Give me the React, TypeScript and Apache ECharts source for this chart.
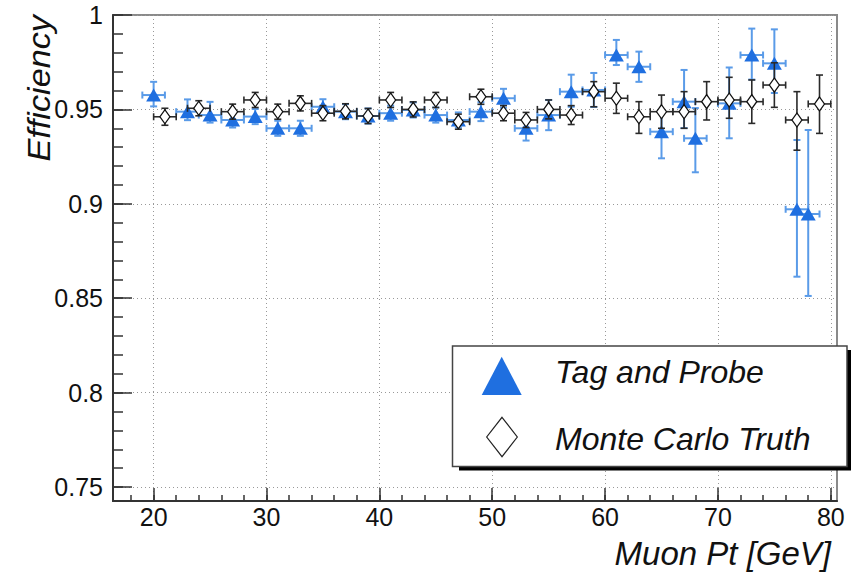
import React, { useEffect, useRef } from "react";
import * as echarts from "echarts";

// ---- Data: Tag and Probe ----
const tpPt = [20, 23, 25, 27, 29, 31, 33, 35, 37, 39, 41, 43, 45, 47, 49, 51, 53, 55, 57, 59, 61, 63, 65, 67, 68, 71, 73, 75, 77, 78];
const tpEff = [0.9576, 0.9488, 0.947, 0.9444, 0.9462, 0.94, 0.94, 0.9514, 0.9488, 0.9465, 0.948, 0.9497, 0.947, 0.9444, 0.9488, 0.9559, 0.94, 0.947, 0.9594, 0.9603, 0.9788, 0.9726, 0.9382, 0.9541, 0.9347, 0.9532, 0.9788, 0.9744, 0.8971, 0.8946];
const tpErrUp = [0.007, 0.0065, 0.007, 0.004, 0.004, 0.004, 0.004, 0.004, 0.004, 0.004, 0.004, 0.004, 0.004, 0.004, 0.005, 0.005, 0.0055, 0.008, 0.009, 0.009, 0.008, 0.008, 0.0106, 0.0168, 0.016, 0.019, 0.014, 0.018, 0.0367, 0.0445];
const tpErrDown = [0.006, 0.0045, 0.004, 0.004, 0.004, 0.004, 0.004, 0.004, 0.004, 0.004, 0.004, 0.004, 0.004, 0.004, 0.005, 0.005, 0.0065, 0.008, 0.008, 0.009, 0.0053, 0.008, 0.0141, 0.014, 0.018, 0.0185, 0.013, 0.0157, 0.0357, 0.0434];

// ---- Data: Monte Carlo Truth ----
const mcPt = [21, 24, 27, 29, 31, 33, 35, 37, 39, 41, 43, 45, 47, 49, 51, 53, 55, 57, 59, 61, 63, 65, 67, 69, 71, 73, 75, 77, 79];
const mcEff = [0.9461, 0.9506, 0.9488, 0.955, 0.9488, 0.9532, 0.948, 0.949, 0.9465, 0.955, 0.95, 0.955, 0.9435, 0.9567, 0.948, 0.9444, 0.95, 0.947, 0.9594, 0.9559, 0.9461, 0.9488, 0.9488, 0.9541, 0.955, 0.9541, 0.9629, 0.9444, 0.9529];
const mcErrUp = [0.0045, 0.004, 0.004, 0.004, 0.004, 0.004, 0.004, 0.004, 0.004, 0.004, 0.004, 0.004, 0.004, 0.004, 0.004, 0.004, 0.005, 0.005, 0.0053, 0.008, 0.008, 0.0088, 0.0106, 0.0106, 0.012, 0.0115, 0.0118, 0.015, 0.0153];
const mcErrDown = [0.0045, 0.004, 0.004, 0.004, 0.004, 0.004, 0.004, 0.004, 0.004, 0.004, 0.004, 0.004, 0.004, 0.004, 0.004, 0.004, 0.005, 0.005, 0.008, 0.008, 0.0088, 0.0088, 0.0088, 0.0097, 0.0097, 0.0115, 0.0118, 0.016, 0.0156];

// half bin width (GeV)
const binHalfWidth = 1;

// ---- Axes ----
const xMajorTicks = [20, 30, 40, 50, 60, 70, 80];
const xMinorTicks = [18, 20, 22, 24, 26, 28, 30, 32, 34, 36, 38, 40, 42, 44, 46, 48, 50, 52, 54, 56, 58, 60, 62, 64, 66, 68, 70, 72, 74, 76, 78, 80];
const yMajorTicks = [0.75, 0.8, 0.85, 0.9, 0.95, 1];
const yMinorTicks = [0.75, 0.76, 0.77, 0.78, 0.79, 0.8, 0.81, 0.82, 0.83, 0.84, 0.85, 0.86, 0.87, 0.88, 0.89, 0.9, 0.91, 0.92, 0.93, 0.94, 0.95, 0.96, 0.97, 0.98, 0.99, 1];
const xMin = 16.4;
const xMax = 80.55;
const yMin = 0.7426;
const yMax = 1.0;

const seriesNames = ["Tag and Probe", "Monte Carlo Truth"];
const xTitle = "Muon Pt [GeV]";
const yTitle = "Efficiency";

const FONT = "'Liberation Sans', Arial, Helvetica, sans-serif";
const BLUE = "#1f6fe0";
const BLUE_ERR = "#5a9be8";
const BLACK_ERR = "#2a2a2a";

function errData(xs: number[], ys: number[], up: number[], down: number[]) {
  return xs.map((x, i) => [x, ys[i], x - binHalfWidth, x + binHalfWidth, ys[i] - down[i], ys[i] + up[i]]);
}

function makeRender(color: string, width: number, cap: number) {
  return (params: any, api: any) => {
    const x = api.value(0);
    const y = api.value(1);
    const l = api.coord([api.value(2), y]);
    const r = api.coord([api.value(3), y]);
    const b = api.coord([x, api.value(4)]);
    const t = api.coord([x, api.value(5)]);
    const style = { stroke: color, lineWidth: width, fill: "none" };
    return {
      type: "group",
      children: [
        { type: "line", shape: { x1: l[0], y1: l[1], x2: r[0], y2: r[1] }, style },
        { type: "line", shape: { x1: l[0], y1: l[1] - cap, x2: l[0], y2: l[1] + cap }, style },
        { type: "line", shape: { x1: r[0], y1: r[1] - cap, x2: r[0], y2: r[1] + cap }, style },
        { type: "line", shape: { x1: b[0], y1: b[1], x2: t[0], y2: t[1] }, style },
        { type: "line", shape: { x1: b[0] - cap, y1: b[1], x2: b[0] + cap, y2: b[1] }, style },
        { type: "line", shape: { x1: t[0] - cap, y1: t[1], x2: t[0] + cap, y2: t[1] }, style },
      ],
    };
  };
}

export default function App() {
  const ref = useRef<HTMLDivElement>(null);
  useEffect(() => {
    if (!ref.current) return;
    const chart = echarts.init(ref.current, null, { renderer: "svg" });
    const axisLineStyle = { color: "#333", width: 2 };
    const tickStyle = { color: "#333", width: 1.5 };
    const gridLine = { show: true, lineStyle: { color: "#999", width: 1, type: [1, 3] as any } };
    const option: any = {
      animation: false,
      backgroundColor: "#ffffff",
      grid: { left: 113, right: 14, top: 15, bottom: 71, show: true, borderColor: "#8a8a8a", borderWidth: 2, backgroundColor: "transparent" },
      xAxis: [
        {
          type: "value", min: xMin, max: xMax, position: "bottom",
          axisLine: { show: true, lineStyle: axisLineStyle },
          axisTick: { show: true, inside: true, length: 6, customValues: xMinorTicks, lineStyle: tickStyle },
          axisLabel: { show: false },
          splitLine: { show: false },
        },
        {
          type: "value", min: xMin, max: xMax, position: "bottom",
          axisLine: { show: false },
          axisTick: { show: true, inside: true, length: 13, customValues: xMajorTicks, lineStyle: tickStyle },
          axisLabel: { show: true, customValues: xMajorTicks, fontSize: 25, color: "#111", fontFamily: FONT, margin: 3 },
          splitLine: gridLine,
        },
      ],
      yAxis: [
        {
          type: "value", min: yMin, max: yMax, position: "left",
          axisLine: { show: true, lineStyle: axisLineStyle },
          axisTick: { show: true, inside: true, length: 10, customValues: yMinorTicks, lineStyle: tickStyle },
          axisLabel: { show: false },
          splitLine: { show: false },
        },
        {
          type: "value", min: yMin, max: yMax, position: "left",
          axisLine: { show: false },
          axisTick: { show: true, inside: true, length: 19, customValues: yMajorTicks, lineStyle: tickStyle },
          axisLabel: { show: true, customValues: yMajorTicks, fontSize: 25, color: "#111", fontFamily: FONT, margin: 10 },
          splitLine: gridLine,
        },
      ],
      series: [
        {
          name: seriesNames[0] + " errors", type: "custom", xAxisIndex: 0, yAxisIndex: 0,
          renderItem: makeRender(BLUE_ERR, 2, 3.5),
          data: errData(tpPt, tpEff, tpErrUp, tpErrDown), z: 2, silent: true,
        },
        {
          name: seriesNames[0], type: "scatter", xAxisIndex: 0, yAxisIndex: 0,
          symbol: "triangle", symbolSize: [15, 13],
          itemStyle: { color: BLUE, opacity: 1 },
          data: tpPt.map((x, i) => [x, tpEff[i]]), z: 3,
        },
        {
          name: seriesNames[1] + " errors", type: "custom", xAxisIndex: 0, yAxisIndex: 0,
          renderItem: makeRender(BLACK_ERR, 1.6, 3.5),
          data: errData(mcPt, mcEff, mcErrUp, mcErrDown), z: 4, silent: true,
        },
        {
          name: seriesNames[1], type: "scatter", xAxisIndex: 0, yAxisIndex: 0,
          symbol: "diamond", symbolSize: [10, 14],
          itemStyle: { color: "#ffffff", borderColor: "#111", borderWidth: 1.3, opacity: 1 },
          data: mcPt.map((x, i) => [x, mcEff[i]]), z: 5,
        },
      ],
      graphic: [
        {
          type: "text", x: 39, y: 15, rotation: Math.PI / 2, scaleX: 1.07, z: 10,
          style: { text: yTitle, font: `italic 32px ${FONT}`, fill: "#111", align: "right", verticalAlign: "middle" },
        },
        {
          type: "text", x: 831, y: 553, z: 10,
          style: { text: xTitle, font: `italic 33px ${FONT}`, fill: "#111", align: "right", verticalAlign: "middle" },
        },
        { type: "rect", z: 20, shape: { x: 459, y: 350, width: 392, height: 120.5 }, style: { fill: "#000" } },
        { type: "rect", z: 21, shape: { x: 452.5, y: 346, width: 394.5, height: 120.5 }, style: { fill: "#fff", stroke: "#444", lineWidth: 1.5 } },
        { type: "polygon", z: 22, shape: { points: [[481.7, 395], [521.7, 395], [501.7, 356.7]] }, style: { fill: BLUE } },
        { type: "polygon", z: 22, shape: { points: [[502, 417.3], [517.3, 437], [502, 456.7], [486.7, 437]] }, style: { fill: "#fff", stroke: "#222", lineWidth: 1.2 } },
        {
          type: "text", x: 555, y: 372, z: 22,
          style: { text: seriesNames[0], font: `italic 32px ${FONT}`, fill: "#111", align: "left", verticalAlign: "middle" },
        },
        {
          type: "text", x: 555, y: 439, z: 22,
          style: { text: seriesNames[1], font: `italic 32px ${FONT}`, fill: "#111", align: "left", verticalAlign: "middle" },
        },
      ],
    };
    chart.setOption(option);
    return () => chart.dispose();
  }, []);
  return (
    <div
      ref={ref}
      style={{ position: "fixed", left: 0, top: 0, width: 851, height: 572, background: "#fff" }}
    />
  );
}
